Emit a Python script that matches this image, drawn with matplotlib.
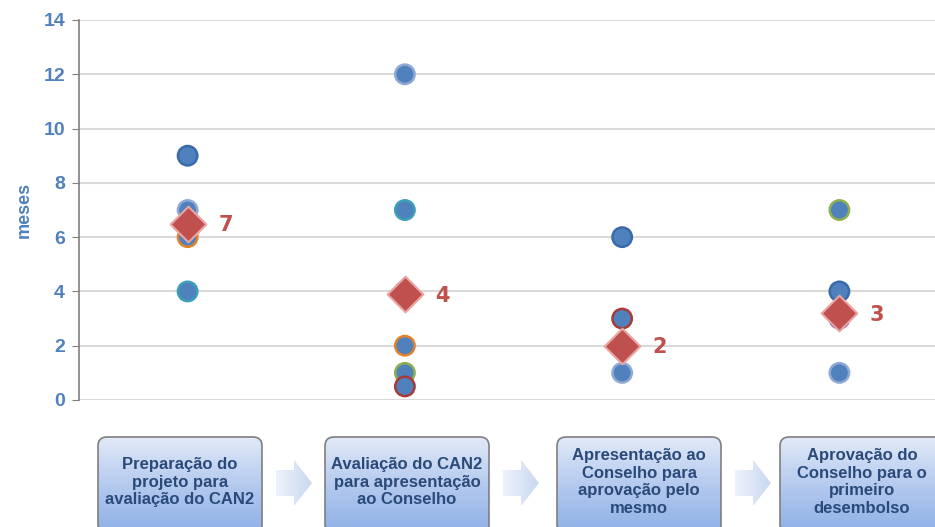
import numpy as np
import matplotlib
matplotlib.use("Agg")
import matplotlib.pyplot as plt
from matplotlib.patches import FancyBboxPatch, Polygon

plt.rcParams["font.family"] = ["Liberation Sans", "DejaVu Sans"]

# --- data ---
stages = [
    "Preparação do\nprojeto para\navaliação do CAN2",
    "Avaliação do CAN2\npara apresentação\nao Conselho",
    "Apresentação ao\nConselho para\naprovação pelo\nmesmo",
    "Aprovação do\nConselho para o\nprimeiro\ndesembolso",
]
stage1_months = [9, 7, 6, 4]
stage2_months = [12, 7, 4, 2, 1, 0.5]
stage3_months = [6, 3, 1]
stage4_months = [7, 4, 3, 1]
mean_months = [6.5, 3.9, 2.0, 3.2]
mean_labels = ["7", "4", "2", "3"]
y_ticks = [0, 2, 4, 6, 8, 10, 12, 14]

# --- styling ---
BLUE = "#4F81BD"
TXT_BLUE = "#4F81BD"
RED = "#C0504D"
edge_colors = [
    ["#3A6AA8", "#8FA9D6", "#E3822E", "#3AA0B8"],
    ["#8FA9D6", "#3AA0B8", "#7A5FA0", "#E3822E", "#8CB04E", "#A83A3A"],
    ["#3A6AA8", "#A83A3A", "#8FA9D6"],
    ["#8CB04E", "#3A6AA8", "#7A5FA0", "#8FA9D6"],
]
all_months = [stage1_months, stage2_months, stage3_months, stage4_months]

W, H = 935, 527
fig = plt.figure(figsize=(W / 100, H / 100), dpi=100)

# chart area: x from 79px to right edge, y=0 at 400px, y=14 at 20px
ax = fig.add_axes([79 / W, (H - 400) / H, (W - 79) / W, 380 / H])
ax.set_xlim(0, 3.94)
ax.set_ylim(0, 14)
ax.set_yticks(y_ticks)
ax.yaxis.grid(True, color="#D9D9D9", lw=1.5)
ax.set_axisbelow(True)
for side in ("top", "right", "bottom"):
    ax.spines[side].set_visible(False)
ax.spines["left"].set_color("#7F7F7F")
ax.spines["left"].set_linewidth(1.2)
ax.tick_params(axis="y", direction="out", length=5, color="#7F7F7F",
               labelsize=14, labelcolor=TXT_BLUE, pad=5)
for lbl in ax.get_yticklabels():
    lbl.set_fontweight("bold")
ax.set_xticks([])
ax.set_ylabel("meses", fontsize=13, fontweight="bold", color=TXT_BLUE, labelpad=8)

for i, (vals, edges) in enumerate(zip(all_months, edge_colors)):
    xs = np.full(len(vals), i + 0.5)
    ax.scatter(xs, vals, s=195, c=BLUE, edgecolors=edges, linewidths=1.8,
               zorder=3, clip_on=False)

xs_mean = np.arange(len(mean_months)) + 0.5
ax.scatter(xs_mean, mean_months, marker="D", s=330, c=RED,
           edgecolors="#E8A5A3", linewidths=1.5, zorder=4, clip_on=False)
for x, y, t in zip(xs_mean, mean_months, mean_labels):
    ax.annotate(t, (x, y), xytext=(22, -1), textcoords="offset points",
                va="center", ha="left", fontsize=15, fontweight="heavy",
                color=RED, family="DejaVu Sans")

# --- process flow boxes below the chart (pixel overlay) ---
ov = fig.add_axes([0, 0, 1, 1])
ov.set_xlim(0, W)
ov.set_ylim(H, 0)
ov.axis("off")

grad = np.linspace(0, 1, 256).reshape(-1, 1)
box_cmap = matplotlib.colors.LinearSegmentedColormap.from_list(
    "box", ["#E2EAF8", "#B3C9EE", "#8DAEE6"])
arrow_cmap = matplotlib.colors.LinearSegmentedColormap.from_list(
    "arr", ["#EEF3FB", "#C9D7F0"])

box_left = [98, 325, 557, 780]
box_width = 164
box_top, box_bottom = 437, 535
for left, text in zip(box_left, stages):
    patch = FancyBboxPatch((left, box_top), box_width, box_bottom - box_top,
                           boxstyle="round,pad=0,rounding_size=9",
                           fc="none", ec="#7F7F7F", lw=1.2, zorder=3)
    ov.add_patch(patch)
    im = ov.imshow(grad, cmap=box_cmap, aspect="auto", zorder=2,
                   extent=(left, left + box_width, box_bottom, box_top))
    im.set_clip_path(patch)
    ov.text(left + box_width / 2, 482, text, ha="center", va="center",
            fontsize=12, fontweight="bold", color="#2A4A7A",
            linespacing=1.2, zorder=4)

for left in box_left[:-1]:
    x0 = left + box_width + 14
    x1 = x0 + 36
    pts = [(x0, 470), (x0 + 18, 470), (x0 + 18, 460), (x1, 483),
           (x0 + 18, 506), (x0 + 18, 496), (x0, 496)]
    arrow = Polygon(pts, closed=True, fc="none", ec="none", zorder=3)
    ov.add_patch(arrow)
    im = ov.imshow(grad.T, cmap=arrow_cmap, aspect="auto", zorder=2,
                   extent=(x0, x1, 506, 460))
    im.set_clip_path(arrow)

fig.savefig("out.png", dpi=100)
